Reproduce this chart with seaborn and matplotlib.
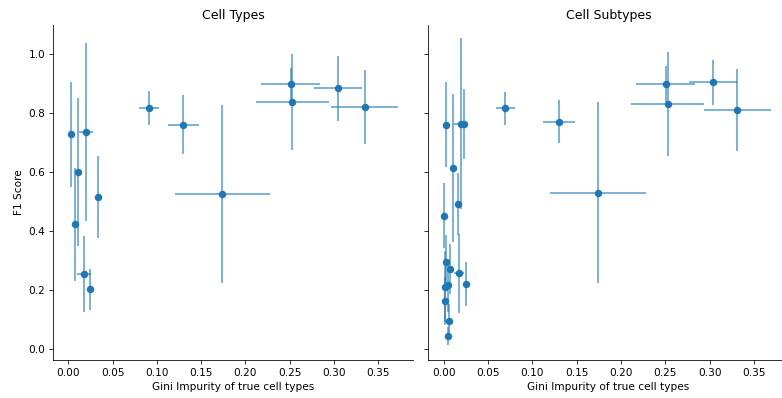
import matplotlib
matplotlib.use("Agg")
import matplotlib.pyplot as plt
import seaborn as sns
import pandas as pd

# ---- Cell Types ----
types_x = [0.0027, 0.0197, 0.0113, 0.034, 0.0079, 0.0178, 0.025, 0.091, 0.130, 0.174, 0.251, 0.253, 0.3046, 0.3345]
types_y = [0.728, 0.736, 0.601, 0.516, 0.423, 0.255, 0.203, 0.816, 0.761, 0.526, 0.897, 0.838, 0.884, 0.819]
types_xerr = [0.001, 0.008, 0.001, 0.002, 0.001, 0.008, 0.002, 0.0117, 0.0174, 0.054, 0.033, 0.0416, 0.027, 0.038]
types_yerr = [0.178, 0.30, 0.25, 0.14, 0.19, 0.128, 0.07, 0.058, 0.10, 0.30, 0.055, 0.162, 0.11, 0.125]

# ---- Cell Subtypes ----
sub_x = [0.0019, 0.0189, 0.0227, 0.0106, 0.0162, 0.0, 0.0023, 0.0065, 0.017, 0.0246, 0.001,
         0.0045, 0.001, 0.0057, 0.0045, 0.0692, 0.130, 0.1738, 0.2502, 0.2525, 0.3035, 0.3314]
sub_y = [0.761, 0.764, 0.762, 0.613, 0.491, 0.452, 0.297, 0.272, 0.257, 0.222, 0.212,
         0.217, 0.164, 0.095, 0.046, 0.816, 0.771, 0.530, 0.898, 0.831, 0.904, 0.809]
sub_xerr = [0.001, 0.007, 0.002, 0.001, 0.001, 0.0005, 0.001, 0.001, 0.006, 0.001, 0.001,
            0.001, 0.001, 0.001, 0.001, 0.0108, 0.0176, 0.054, 0.033, 0.041, 0.027, 0.038]
sub_yerr = [0.143, 0.29, 0.119, 0.25, 0.105, 0.11, 0.09, 0.085, 0.135, 0.074, 0.12,
            0.09, 0.08, 0.06, 0.03, 0.055, 0.072, 0.307, 0.06, 0.176, 0.076, 0.139]

titles = ["Cell Types", "Cell Subtypes"]
xlabel = "Gini Impurity of true cell types"
ylabel = "F1 Score"
xticks = [0.00, 0.05, 0.10, 0.15, 0.20, 0.25, 0.30, 0.35]
yticks = [0.0, 0.2, 0.4, 0.6, 0.8, 1.0]

DPI = 72
fig = plt.figure(figsize=(782 / DPI, 398 / DPI), dpi=DPI)
W, H = 782, 398
ax1 = fig.add_axes([52.7 / W, 38 / H, 360.6 / W, 335 / H])
ax2 = fig.add_axes([428.3 / W, 38 / H, 360.6 / W, 335 / H], sharey=ax1)

color = "#1f77b4"
datasets = [
    (ax1, types_x, types_y, types_xerr, types_yerr),
    (ax2, sub_x, sub_y, sub_xerr, sub_yerr),
]
for i, (ax, x, y, xe, ye) in enumerate(datasets):
    df = pd.DataFrame({"x": x, "y": y})
    ax.errorbar(x, y, xerr=xe, yerr=ye, fmt="none", ecolor=color, alpha=0.75,
                elinewidth=1.5, zorder=1)
    sns.scatterplot(data=df, x="x", y="y", ax=ax, color=color, s=56,
                    linewidth=0, zorder=2)
    ax.set_title(titles[i], fontsize=12.5)
    ax.set_xlabel(xlabel, fontsize=10.5, labelpad=5)
    ax.set_xticks(xticks)
    ax.set_xticklabels([f"{t:.2f}" for t in xticks])
    ax.set_xlim(-0.0176, 0.3895)
    ax.tick_params(labelsize=10.5, length=4)
    sns.despine(ax=ax)

ax1.set_ylim(-0.036, 1.098)
ax1.set_yticks(yticks)
ax1.set_yticklabels([f"{t:.1f}" for t in yticks])
ax1.set_ylabel(ylabel, fontsize=10.5)
ax2.set_ylabel("")
ax2.tick_params(axis="y", labelleft=False)

fig.savefig("out.png", dpi=DPI)
